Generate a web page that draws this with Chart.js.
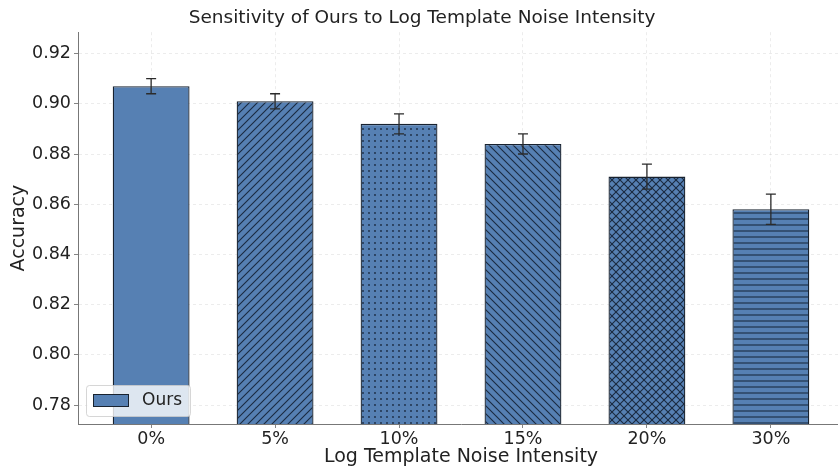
<!DOCTYPE html>
<html>
<head>
<meta charset="utf-8">
<script src="https://cdn.jsdelivr.net/npm/chart.js@4.4.1/dist/chart.umd.min.js"></script>
<style>
  html, body { margin: 0; padding: 0; background: #fff; overflow: hidden; }
  #wrap { width: 850px; height: 468px; }
</style>
</head>
<body>
<div id="wrap"><canvas id="c" width="850" height="468"></canvas></div>
<script>
// Noise levels and measured accuracy with standard deviation
const categories = ['0%', '5%', '10%', '15%', '20%', '30%'];
const accuracy = [0.907, 0.901, 0.892, 0.884, 0.871, 0.858];
const errors = [0.003, 0.003, 0.004, 0.004, 0.005, 0.006];
const hatches = ['', '/', '.', '\\', 'x', '-'];
const yTicks = [0.78, 0.80, 0.82, 0.84, 0.86, 0.88, 0.90, 0.92];
const seriesName = 'Ours';

const BAR_COLOR = '#5680b3';
const EDGE_COLOR = '#18222f';
const HATCH_COLOR = '#1b2a40';
const FONT = 'DejaVu Sans';

// Build a repeating hatch fill over the bar colour
function hatchPattern(kind) {
  if (!kind) return BAR_COLOR;
  const s = kind === '-' ? 6 : (kind === '.' ? 6 : 8);
  const cv = document.createElement('canvas');
  cv.width = s; cv.height = s;
  const g = cv.getContext('2d');
  g.fillStyle = BAR_COLOR;
  g.fillRect(0, 0, s, s);
  g.strokeStyle = HATCH_COLOR;
  g.fillStyle = HATCH_COLOR;
  g.lineWidth = 1.1;
  const diag = (dir) => {
    g.beginPath();
    for (let k = -1; k <= 1; k++) {
      if (dir > 0) { g.moveTo(k * s - 1, s + 1); g.lineTo(k * s + s + 1, -1); }
      else { g.moveTo(k * s - 1, -1); g.lineTo(k * s + s + 1, s + 1); }
    }
    g.stroke();
  };
  if (kind === '/') diag(1);
  if (kind === '\\') diag(-1);
  if (kind === 'x') { diag(1); diag(-1); }
  if (kind === '-') {
    g.beginPath(); g.moveTo(0, 3); g.lineTo(s, 3); g.stroke();
  }
  if (kind === '.') {
    g.beginPath(); g.arc(3, 3, 0.9, 0, Math.PI * 2); g.fill();
  }
  return g.createPattern(cv, 'repeat');
}

// Error bars with caps
const errorBars = {
  id: 'errorBars',
  afterDatasetsDraw(chart) {
    const { ctx, scales: { x, y } } = chart;
    ctx.save();
    ctx.strokeStyle = '#2b2b2b';
    ctx.lineWidth = 1.3;
    accuracy.forEach((v, i) => {
      const px = x.getPixelForValue(i);
      const top = y.getPixelForValue(v + errors[i]);
      const bot = y.getPixelForValue(v - errors[i]);
      ctx.beginPath();
      ctx.moveTo(px, top); ctx.lineTo(px, bot);
      ctx.moveTo(px - 5, top); ctx.lineTo(px + 5, top);
      ctx.moveTo(px - 5, bot); ctx.lineTo(px + 5, bot);
      ctx.stroke();
    });
    ctx.restore();
  }
};

// Legend box in the lower-left corner of the plot
const cornerLegend = {
  id: 'cornerLegend',
  afterDraw(chart) {
    const { ctx, chartArea: a } = chart;
    const x0 = a.left + 8, y1 = a.bottom - 8, w = 104, h = 31;
    const y0 = y1 - h;
    ctx.save();
    ctx.fillStyle = 'rgba(255,255,255,0.8)';
    ctx.strokeStyle = 'rgba(204,204,204,0.8)';
    ctx.lineWidth = 1;
    ctx.beginPath();
    ctx.roundRect(x0 + 0.5, y0 + 0.5, w, h, 3);
    ctx.fill(); ctx.stroke();
    ctx.fillStyle = BAR_COLOR;
    ctx.strokeStyle = EDGE_COLOR;
    ctx.fillRect(x0 + 7, y0 + 9, 36, 12);
    ctx.strokeRect(x0 + 7.5, y0 + 9.5, 35, 12);
    ctx.fillStyle = '#222';
    ctx.font = '17px "' + FONT + '"';
    ctx.textBaseline = 'middle';
    ctx.fillText(seriesName, x0 + 56, y0 + 15.5);
    ctx.restore();
  }
};

const gridOpts = {
  color: 'rgba(176,176,176,0.3)',
  tickColor: '#666',
  tickBorderDash: [],
  tickLength: 4,
  lineWidth: 0.8,
  offset: false
};
const borderOpts = { color: '#777', width: 1, dash: [3, 3] };

const ctx = document.getElementById('c').getContext('2d');
new Chart(ctx, {
  type: 'bar',
  data: {
    datasets: [{
      label: seriesName,
      data: accuracy.map((v, i) => ({ x: i, y: v })),
      backgroundColor: hatches.map(hatchPattern),
      borderColor: EDGE_COLOR,
      borderWidth: 1.3,
      borderSkipped: false,
      barPercentage: 0.62,
      categoryPercentage: 1.0
    }]
  },
  options: {
    responsive: false,
    animation: false,
    layout: { padding: { top: 0, right: 6, left: 0, bottom: 0 } },
    plugins: {
      legend: { display: false },
      tooltip: { enabled: false },
      title: {
        display: true,
        text: 'Sensitivity of Ours to Log Template Noise Intensity',
        color: '#222',
        font: { family: FONT, size: 18.5, weight: 'normal' },
        padding: { top: 7, bottom: 3 }
      }
    },
    scales: {
      x: {
        type: 'linear',
        offset: false,
        min: -0.59,
        max: 5.59,
        afterBuildTicks(scale) { scale.ticks = categories.map((c, i) => ({ value: i })); },
        afterFit(scale) { scale.height = 44; },
        ticks: {
          callback: (v) => categories[v] ?? '',
          color: '#222',
          font: { family: FONT, size: 17.5 },
          padding: 1,
          maxRotation: 0,
          autoSkip: false
        },
        grid: gridOpts,
        border: borderOpts,
        title: {
          display: true,
          text: 'Log Template Noise Intensity',
          color: '#222',
          font: { family: FONT, size: 19 },
          padding: { top: 0, bottom: 0 }
        }
      },
      y: {
        min: 0.7725,
        max: 0.9285,
        afterBuildTicks(scale) { scale.ticks = yTicks.map(v => ({ value: v })); },
        afterFit(scale) { scale.width = 78; },
        ticks: {
          callback: (v) => v.toFixed(2),
          color: '#222',
          font: { family: FONT, size: 17.5 },
          padding: 3
        },
        grid: gridOpts,
        border: borderOpts,
        title: {
          display: true,
          text: 'Accuracy',
          color: '#222',
          font: { family: FONT, size: 19 },
          padding: { top: 8, bottom: 0 }
        }
      }
    }
  },
  plugins: [errorBars, cornerLegend]
});
</script>
</body>
</html>
